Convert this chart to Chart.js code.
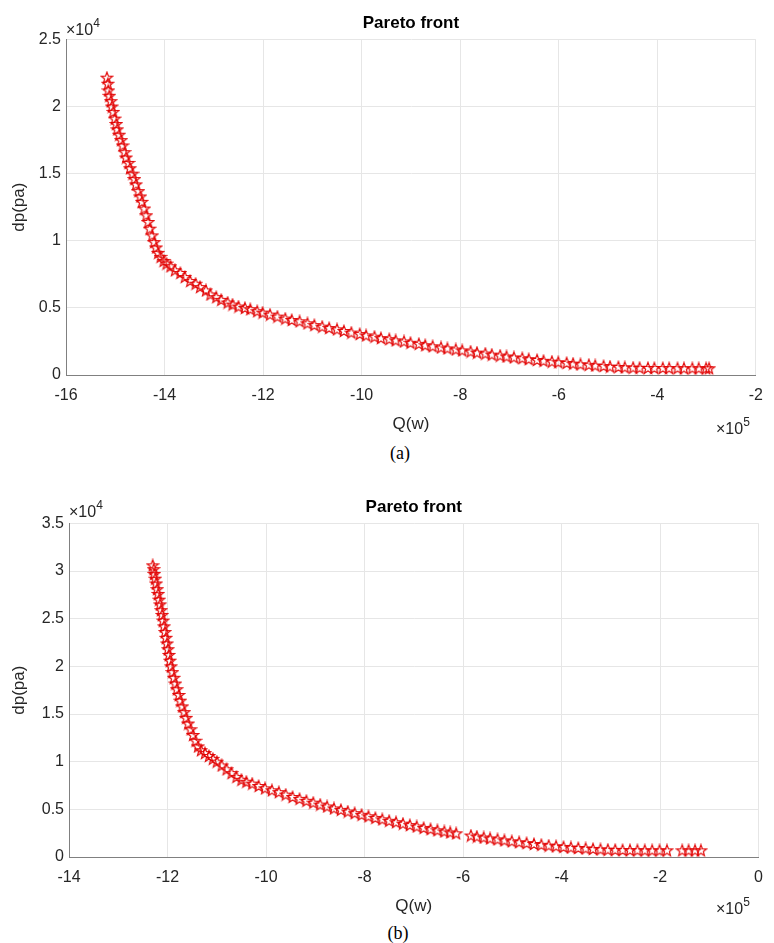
<!DOCTYPE html>
<html>
<head>
<meta charset="utf-8">
<script src="https://cdn.jsdelivr.net/npm/chart.js@4.4.1/dist/chart.umd.min.js"></script>
<style>
  body { margin: 0; background: #fff; }
  #wrap { position: relative; width: 774px; height: 943px; font-family: "Liberation Sans", Arial, sans-serif; color: #262626; }
  canvas { position: absolute; left: 0; }
  .exp { position: absolute; font-size: 16px; white-space: nowrap; }
  .exp sup { font-size: 12px; position: relative; top: -2px; }
  .cap { position: absolute; width: 60px; text-align: center; font-family: "Liberation Serif", "Times New Roman", serif; font-size: 18px; color: #000; }
</style>
</head>
<body>
<div id="wrap">
  <canvas id="chart1" width="774" height="440" style="top:0"></canvas>
  <canvas id="chart2" width="774" height="440" style="top:480px"></canvas>
  <div class="exp" style="left:66px; top:18px">×10<sup>4</sup></div>
  <div class="exp" style="left:716px; top:417px">×10<sup>5</sup></div>
  <div class="cap" style="left:370px; top:443px">(a)</div>
  <div class="exp" style="left:69px; top:500px">×10<sup>4</sup></div>
  <div class="exp" style="left:716px; top:897px">×10<sup>5</sup></div>
  <div class="cap" style="left:368px; top:923px">(b)</div>
</div>
<script>
// Q en unidades de 1e5 W, dp en unidades de 1e4 Pa
const qA = [-15.17, -15.15, -15.14, -15.12, -15.09, -15.07, -15.04, -15.01, -14.98, -14.96, -14.92, -14.88,
  -14.85, -14.81, -14.78, -14.73, -14.70, -14.65, -14.61, -14.58, -14.53, -14.49, -14.46, -14.41, -14.37,
  -14.33, -14.30, -14.25, -14.21, -14.17, -14.13, -14.08, -14.02, -13.96,
  -13.88, -13.79, -13.68, -13.59, -13.48, -13.37, -13.28, -13.16, -13.07, -12.95, -12.85, -12.72, -12.62,
  -12.50, -12.37, -12.26, -12.12, -12.01,
  -11.86, -11.71, -11.55, -11.42, -11.26, -11.10, -10.96, -10.80, -10.66, -10.50, -10.36, -10.21, -10.04,
  -9.91, -9.74, -9.61, -9.44, -9.31, -9.14, -9.01, -8.84, -8.71, -8.56, -8.39, -8.26, -8.09, -7.96, -7.79,
  -7.66, -7.49, -7.36, -7.19, -7.06, -6.91, -6.74, -6.61, -6.44, -6.31, -6.14, -6.01, -5.84, -5.71, -5.56,
  -5.39, -5.26, -5.09, -4.96, -4.79, -4.66, -4.49, -4.36, -4.19, -4.06, -3.89, -3.76, -3.59, -3.46, -3.29,
  -3.16, -3.01, -2.95];
const dpA = [2.215, 2.17, 2.12, 2.08, 2.04, 2.00, 1.96, 1.91, 1.87, 1.83, 1.79, 1.75,
  1.71, 1.66, 1.62, 1.58, 1.54, 1.50, 1.46, 1.42, 1.37, 1.33, 1.29, 1.24, 1.19,
  1.14, 1.09, 1.04, 0.99, 0.95, 0.91, 0.88, 0.85, 0.83,
  0.81, 0.78, 0.76, 0.73, 0.70, 0.68, 0.655, 0.63, 0.60, 0.58, 0.56, 0.54, 0.525,
  0.51, 0.50, 0.49, 0.475, 0.465,
  0.45, 0.435, 0.42, 0.41, 0.40, 0.385, 0.372, 0.36, 0.35, 0.34, 0.328, 0.316, 0.305,
  0.295, 0.285, 0.275, 0.267, 0.258, 0.25, 0.24, 0.232, 0.222, 0.214, 0.205, 0.198, 0.19, 0.183, 0.175,
  0.167, 0.16, 0.152, 0.145, 0.138, 0.131, 0.125, 0.118, 0.112, 0.106, 0.10, 0.095, 0.09, 0.085, 0.08,
  0.076, 0.071, 0.067, 0.063, 0.06, 0.057, 0.055, 0.054, 0.053, 0.052, 0.052, 0.051, 0.051, 0.05, 0.05,
  0.05, 0.05, 0.05];

const qB = [-12.30, -12.28, -12.27, -12.25, -12.23, -12.21, -12.19, -12.17, -12.15, -12.13, -12.11, -12.09,
  -12.07, -12.05, -12.03, -12.01, -11.99, -11.97, -11.95, -11.93, -11.90, -11.87, -11.84, -11.81, -11.77,
  -11.74, -11.70, -11.66, -11.62, -11.58, -11.53, -11.48, -11.43, -11.38, -11.32, -11.24, -11.16, -11.08,
  -11.00, -10.90, -10.80, -10.70, -10.60, -10.50, -10.40, -10.28, -10.15, -10.02, -9.88, -9.74, -9.60,
  -9.46, -9.32, -9.18, -9.04, -8.90, -8.76, -8.62, -8.48, -8.34, -8.20, -8.06, -7.92, -7.78, -7.64, -7.50,
  -7.36, -7.22, -7.08, -6.94, -6.80, -6.66, -6.52, -6.38, -6.26, -6.14, -5.84, -5.72, -5.58, -5.45, -5.30,
  -5.16, -5.01, -4.86, -4.71, -4.56, -4.41, -4.26, -4.11, -3.96, -3.81, -3.66, -3.51, -3.36, -3.21, -3.06,
  -2.91, -2.76, -2.61, -2.46, -2.31, -2.16, -2.01, -1.86, -1.55, -1.42, -1.29, -1.17];
const dpB = [3.06, 3.02, 2.97, 2.92, 2.87, 2.81, 2.76, 2.70, 2.65, 2.59, 2.54, 2.48,
  2.42, 2.36, 2.30, 2.24, 2.18, 2.12, 2.06, 2.00, 1.94, 1.88, 1.82, 1.76, 1.70,
  1.64, 1.58, 1.52, 1.46, 1.40, 1.34, 1.28, 1.22, 1.16, 1.12, 1.09, 1.06, 1.03,
  1.00, 0.96, 0.92, 0.88, 0.84, 0.81, 0.79, 0.77, 0.745, 0.72, 0.70, 0.68, 0.655,
  0.63, 0.61, 0.59, 0.57, 0.55, 0.53, 0.51, 0.495, 0.477, 0.46, 0.443, 0.427, 0.41, 0.395, 0.38,
  0.365, 0.35, 0.335, 0.32, 0.305, 0.292, 0.28, 0.268, 0.258, 0.248, 0.225, 0.215, 0.205, 0.195, 0.185,
  0.175, 0.165, 0.155, 0.146, 0.137, 0.128, 0.12, 0.113, 0.106, 0.10, 0.095, 0.09, 0.085, 0.08, 0.077,
  0.075, 0.073, 0.072, 0.071, 0.07, 0.07, 0.07, 0.07, 0.07, 0.07, 0.07, 0.07];

const ticksA = { xMin: -16, xMax: -2, yMin: 0, yMax: 2.5 };
const ticksB = { xMin: -14, xMax: 0, yMin: 0, yMax: 3.5 };

// estrella de 5 puntas (pentagrama) como marcador
function makeStar() {
  const c = document.createElement('canvas');
  c.width = 14; c.height = 14;
  const ctx = c.getContext('2d');
  ctx.beginPath();
  for (let i = 0; i < 10; i++) {
    const r = i % 2 == 0 ? 6 : 2.5;
    const a = -Math.PI / 2 + i * Math.PI / 5;
    const px = 7 + r * Math.cos(a), py = 7.4 + r * Math.sin(a);
    if (i == 0) ctx.moveTo(px, py); else ctx.lineTo(px, py);
  }
  ctx.closePath();
  ctx.strokeStyle = 'rgba(225,0,0,0.95)';
  ctx.lineWidth = 1.2;
  ctx.stroke();
  return c;
}
const star = makeStar();

function toPoints(xs, ys) {
  let pts = [];
  for (let i = 0; i < xs.length; i++) {
    pts.push({ x: xs[i], y: ys[i] });
  }
  return pts;
}

function fmt(value) {
  return String(Number(value.toFixed(1)));
}

function drawChart(id, xs, ys, lim, opts) {
  const ctx = document.getElementById(id).getContext('2d');
  return new Chart(ctx, {
    type: 'scatter',
    data: {
      datasets: [{
        data: toPoints(xs, ys),
        pointStyle: star,
        pointRadius: 6,
        showLine: false
      }]
    },
    options: {
      responsive: false,
      animation: false,
      events: [],
      layout: { padding: { left: 0, right: opts.right, top: 0, bottom: 0 } },
      plugins: {
        legend: { display: false },
        tooltip: { enabled: false },
        title: {
          display: true,
          text: 'Pareto front',
          fullSize: false,
          color: '#000',
          font: { family: 'Liberation Sans', size: 17, weight: 'bold' },
          padding: { top: opts.titleTop, bottom: 6 }
        }
      },
      scales: {
        x: {
          type: 'linear',
          min: lim.xMin,
          max: lim.xMax,
          afterFit: function (scale) { scale.height = opts.xHeight; },
          ticks: {
            stepSize: 2,
            padding: 11,
            color: '#262626',
            font: { family: 'Liberation Sans', size: 16 },
            callback: fmt
          },
          grid: { color: '#e6e6e6', drawTicks: false },
          border: { color: '#808080', width: 1 },
          title: {
            display: true,
            text: 'Q(w)',
            color: '#262626',
            font: { family: 'Liberation Sans', size: 17 },
            padding: { top: 0, bottom: opts.qPad }
          }
        },
        y: {
          type: 'linear',
          min: lim.yMin,
          max: lim.yMax,
          afterFit: function (scale) { scale.width = opts.yWidth; },
          ticks: {
            stepSize: 0.5,
            padding: 5,
            color: '#262626',
            font: { family: 'Liberation Sans', size: 16 },
            callback: fmt
          },
          grid: { color: '#e6e6e6', drawTicks: false },
          border: { color: '#808080', width: 1 },
          title: {
            display: true,
            text: 'dp(pa)',
            color: '#262626',
            font: { family: 'Liberation Sans', size: 17 },
            padding: { top: 9, bottom: 0 }
          }
        }
      }
    }
  });
}

drawChart('chart1', qA, dpA, ticksA, { right: 11, titleTop: 13, xHeight: 65, yWidth: 66, qPad: 5 });
drawChart('chart2', qB, dpB, ticksB, { right: 13, titleTop: 17, xHeight: 63, yWidth: 69, qPad: 3 });
</script>
</body>
</html>
